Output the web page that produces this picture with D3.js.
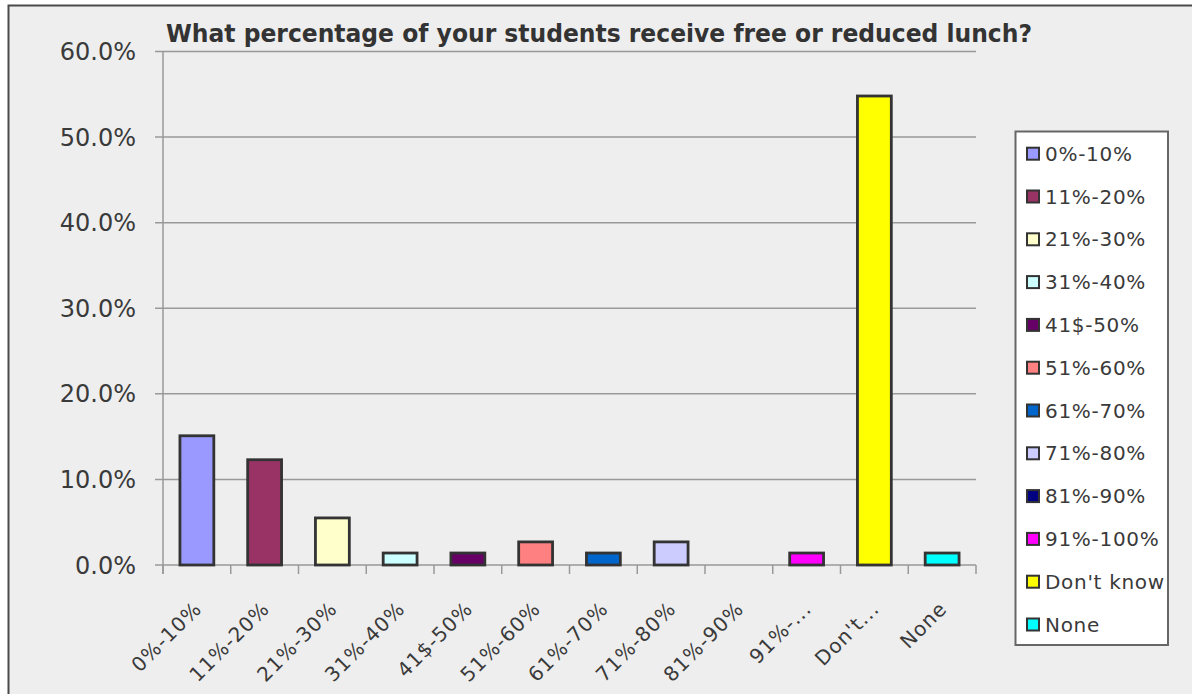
<!DOCTYPE html>
<html>
<head>
<meta charset="utf-8">
<script src="https://cdn.jsdelivr.net/npm/d3@7"></script>
<style>
html,body{margin:0;padding:0;background:#fff;}
svg{display:block;}
</style>
</head>
<body>
<svg id="chart" width="1192" height="694"></svg>
<script>
const title = "What percentage of your students receive free or reduced lunch?";
const categories = ["0%-10%","11%-20%","21%-30%","31%-40%","41$-50%","51%-60%","61%-70%","71%-80%","81%-90%","91%-...","Don't...","None"];
const legendLabels = ["0%-10%","11%-20%","21%-30%","31%-40%","41$-50%","51%-60%","61%-70%","71%-80%","81%-90%","91%-100%","Don't know","None"];
const values = [0.151, 0.123, 0.055, 0.014, 0.014, 0.027, 0.014, 0.027, 0.0, 0.014, 0.548, 0.014];
const colors = ["#9999FF","#993366","#FFFFCC","#CCFFFF","#660066","#FF8080","#0066CC","#CCCCFF","#000080","#FF00FF","#FFFF00","#00FFFF"];
const yTicks = [0, 0.1, 0.2, 0.3, 0.4, 0.5, 0.6];

(function(){
const svg = d3.select("#chart");
const W = 1192, H = 694;

svg.append("rect").attr("x",8.5).attr("y",5.5).attr("width",W+20).attr("height",H+20)
  .attr("fill","#EEEEEE").attr("stroke","#4a4a4a").attr("stroke-width",2);

const pL = 163, pR = 976, pT = 51.5, pB = 565;
const x = d3.scaleBand().domain(categories).range([pL,pR]).paddingInner(0.5).paddingOuter(0.25);
const y = d3.scaleLinear().domain([0,0.6]).range([pB, pT]);
const fmt = d3.format(".1%");

svg.append("g").selectAll("line").data(yTicks).join("line")
  .attr("x1",pL-8).attr("x2",pR)
  .attr("y1",d=>y(d)).attr("y2",d=>y(d))
  .attr("stroke","#999").attr("stroke-width",1.5);

svg.append("line").attr("x1",pL).attr("x2",pL).attr("y1",pT).attr("y2",pB+9)
  .attr("stroke","#999").attr("stroke-width",1.5);

svg.append("g").selectAll("text").data(yTicks).join("text")
  .attr("x",pL-27).attr("y",d=>y(d)).attr("dy","0.36em")
  .attr("text-anchor","end")
  .attr("font-family","DejaVu Sans, Verdana, sans-serif")
  .attr("font-size",24).attr("fill","#3a3a3a")
  .text(d=>fmt(d));

const step = x.step();
const bounds = d3.range(categories.length+1).map(i => pL + i*step);
svg.append("g").selectAll("line").data(bounds).join("line")
  .attr("x1",d=>d).attr("x2",d=>d).attr("y1",pB).attr("y2",pB+9)
  .attr("stroke","#999").attr("stroke-width",1.5);

svg.append("g").selectAll("rect").data(values).join("rect")
  .attr("x",(d,i)=>x(categories[i]))
  .attr("width",x.bandwidth())
  .attr("y",d=>y(d))
  .attr("height",d=>pB - y(d))
  .attr("fill",(d,i)=>colors[i])
  .attr("stroke",(d)=> d>0 ? "#333" : "none")
  .attr("stroke-width",2.8);

svg.append("g").selectAll("text").data(categories).join("text")
  .attr("transform",d=>`translate(${x(d)+x.bandwidth()/2+6},${pB+45}) rotate(-45)`)
  .attr("text-anchor","end")
  .attr("font-family","DejaVu Sans, Verdana, sans-serif")
  .attr("font-size",20).attr("letter-spacing",1).attr("fill","#3a3a3a")
  .text(d=>d);

svg.append("text").attr("x",166).attr("y",42)
  .attr("font-family","DejaVu Sans, Verdana, sans-serif")
  .attr("font-weight","bold").attr("font-size",25)
  .attr("textLength",866).attr("lengthAdjust","spacingAndGlyphs")
  .attr("fill","#333").text(title);

const lg = svg.append("g");
lg.append("rect").attr("x",1015.5).attr("y",131.5).attr("width",152.5).attr("height",513.5)
  .attr("fill","#fff").attr("stroke","#666").attr("stroke-width",2);
const items = lg.selectAll("g.item").data(legendLabels).join("g")
  .attr("class","item")
  .attr("transform",(d,i)=>`translate(0,${160.7 + i*42.8})`);
items.append("rect").attr("x",1027).attr("y",-13).attr("width",12).attr("height",12)
  .attr("fill",(d,i)=>colors[i]).attr("stroke","#333").attr("stroke-width",2);
items.append("text").attr("x",1045).attr("y",0)
  .attr("font-family","DejaVu Sans, Verdana, sans-serif")
  .attr("font-size",20).attr("letter-spacing",0.7).attr("fill","#3a3a3a")
  .text(d=>d);
})();
</script>
</body>
</html>
